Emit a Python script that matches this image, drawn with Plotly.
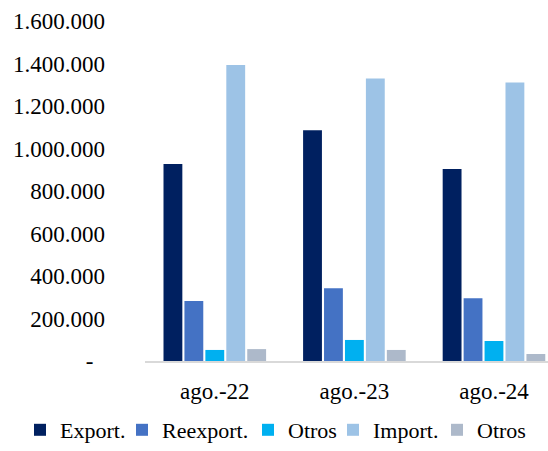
import plotly.graph_objects as go

categorias = ["ago.-22", "ago.-23", "ago.-24"]
export = [927000, 1086000, 904000]
reexport = [282000, 342000, 295000]
otros_exp = [52000, 99000, 94000]
importaciones = [1393000, 1330000, 1311000]
otros_imp = [56000, 52000, 33000]

tick_vals = [0, 200000, 400000, 600000, 800000, 1000000, 1200000, 1400000, 1600000]
tick_text = ["-\u00a0\u00a0", "200.000", "400.000", "600.000", "800.000",
             "1.000.000", "1.200.000", "1.400.000", "1.600.000"]

series = [
    ("Export.", export, "#002060"),
    ("Reexport.", reexport, "#4472C4"),
    ("Otros", otros_exp, "#00B0F0"),
    ("Import.", importaciones, "#9DC3E6"),
    ("Otros", otros_imp, "#ADB9CA"),
]

fuente = "Liberation Serif"
# posicion (px) de cada leyenda, una por serie para imitar el espaciado de Excel
leyenda_x = [20, 122, 248, 333, 437]

fig = go.Figure()
layout_leyendas = {}
for i, (nombre, valores, color) in enumerate(series):
    clave = "legend" if i == 0 else "legend%d" % (i + 1)
    fig.add_trace(go.Bar(x=categorias, y=valores, name=nombre, legend=clave,
                         marker=dict(color=color, line=dict(width=0))))
    layout_leyendas[clave] = dict(
        orientation="h", xref="container", yref="container",
        x=leyenda_x[i] / 548, xanchor="left", y=-0.034, yanchor="bottom",
        font=dict(family=fuente, size=22), itemwidth=30,
        bgcolor="rgba(0,0,0,0)")

fig.update_layout(
    width=548, height=451,
    margin=dict(l=145, r=0, t=21, b=90, autoexpand=False),
    paper_bgcolor="white", plot_bgcolor="white",
    barmode="group", bargap=0.25, bargroupgap=0.1,
    font=dict(family=fuente, size=23, color="black"),
    showlegend=True,
    xaxis=dict(range=[-0.5, 2.387], showline=True, linecolor="#d9d9d9",
               linewidth=2, ticks="", showgrid=False, automargin=False,
               ticklabelstandoff=8),
    yaxis=dict(range=[0, 1600000], tickvals=tick_vals, ticktext=tick_text,
               showgrid=False, zeroline=False, showline=False,
               ticklabelstandoff=39, automargin=False),
    **layout_leyendas
)

fig.write_html("out.html", config={"displayModeBar": False},
               post_script="document.body.style.margin='0px';")
